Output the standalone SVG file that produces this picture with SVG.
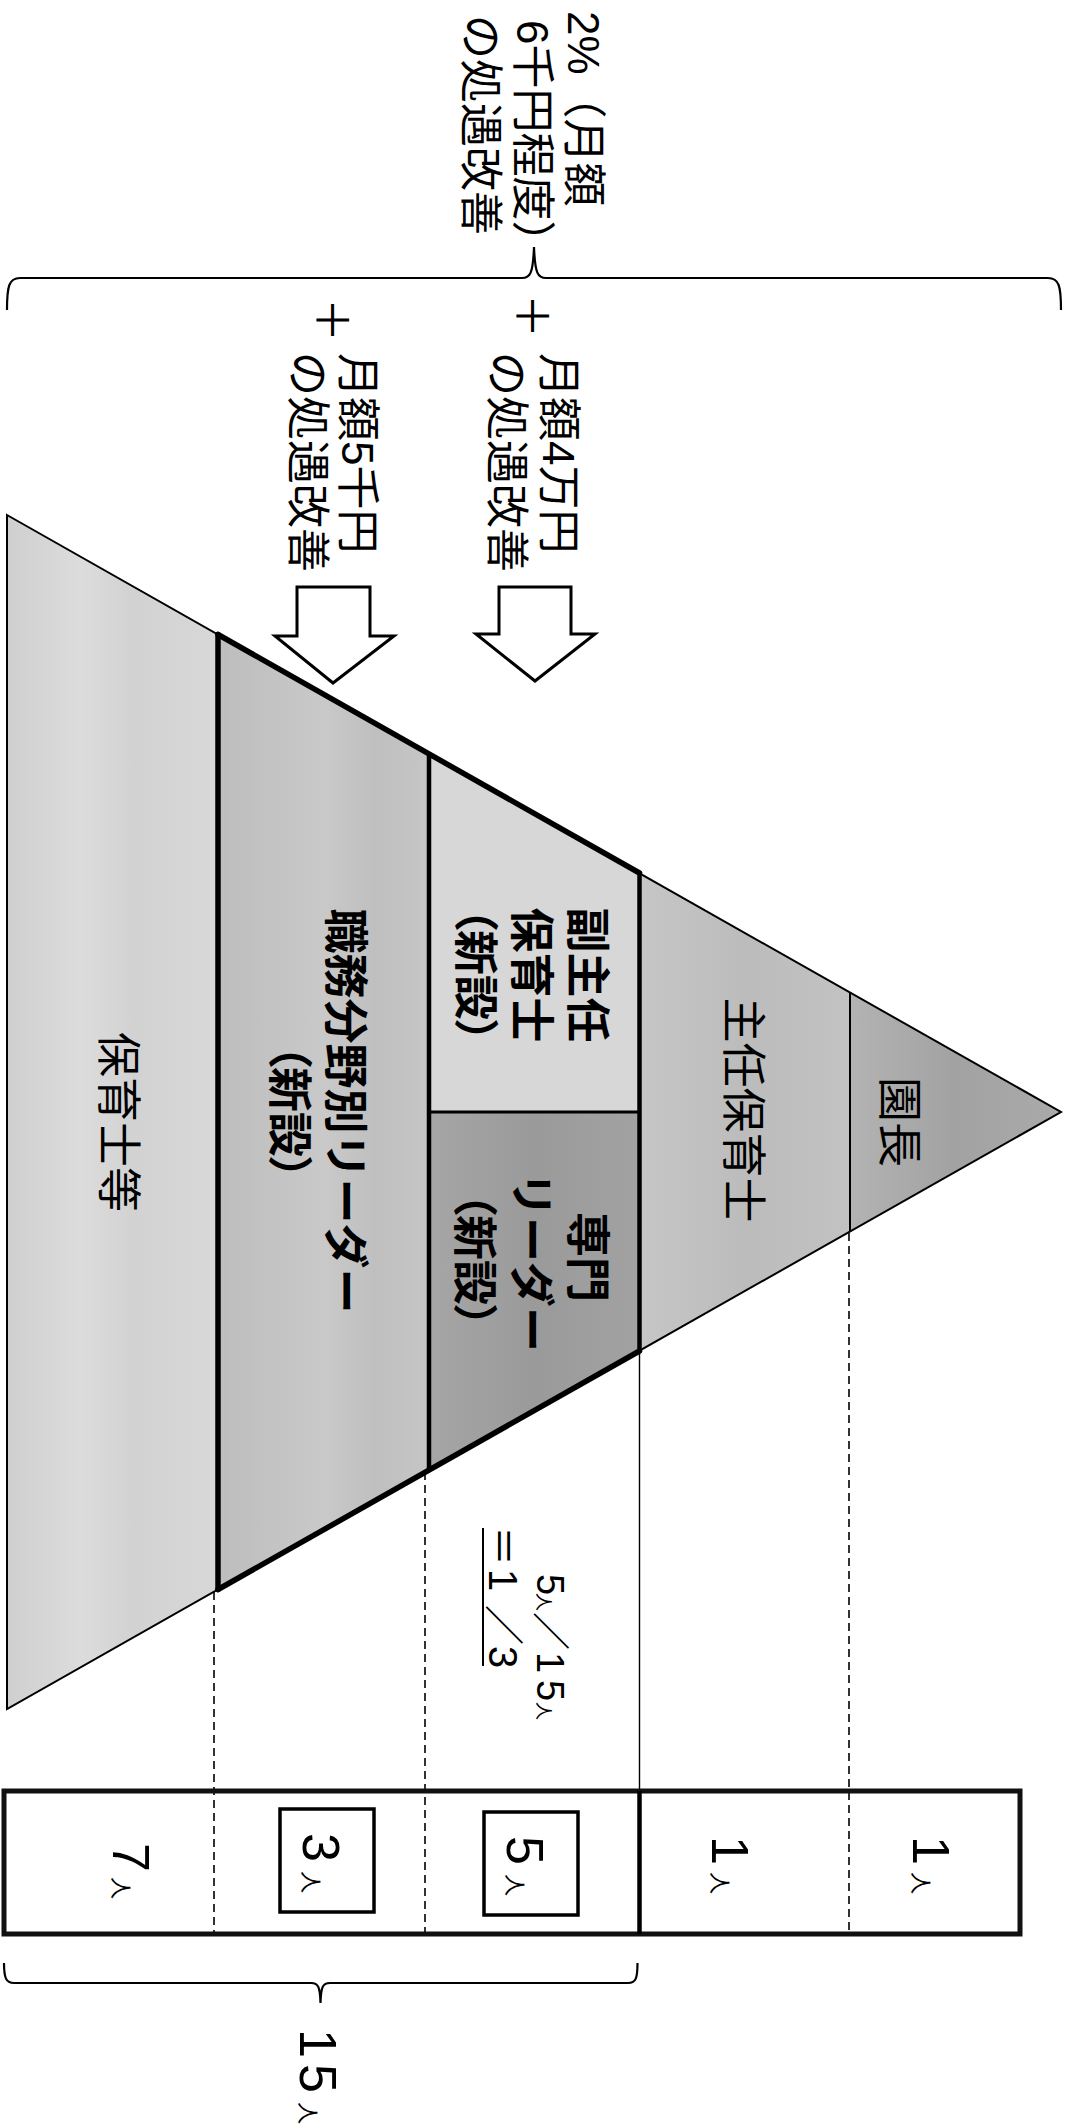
<svg xmlns="http://www.w3.org/2000/svg" width="1066" height="2125" viewBox="0 0 1066 2125">
<style>
.t{font-family:"Liberation Sans","Noto Sans CJK JP",sans-serif;fill:#000}
.f42{font-size:44px}
.f45{font-size:45px}
.b{font-weight:bold}
.palt{font-feature-settings:"palt"}
.num{font-size:52px}
.nin{font-size:22px}
.thin{fill:none;stroke:#000;stroke-width:2}
.thick{fill:none;stroke:#000;stroke-width:5.5;stroke-linecap:round}
.mid{fill:none;stroke:#000;stroke-width:4.5}
.dash{fill:none;stroke:#000;stroke-width:1.6;stroke-dasharray:8 5}
.arrow{fill:#fff;stroke:#000;stroke-width:3;stroke-linejoin:miter}
.brace{fill:none;stroke:#000;stroke-width:2.2}
</style>
<defs>
<linearGradient id="gHoiku" x1="0" y1="0" x2="1" y2="0">
<stop offset="0" stop-color="#cfcfcf"/><stop offset="0.35" stop-color="#dcdcdc"/><stop offset="0.6" stop-color="#d2d2d2"/><stop offset="1" stop-color="#d8d8d8"/>
</linearGradient>
<linearGradient id="gShokumu" x1="0" y1="0" x2="1" y2="0">
<stop offset="0" stop-color="#bdbdbd"/><stop offset="0.5" stop-color="#c9c9c9"/><stop offset="0.75" stop-color="#bfbfbf"/><stop offset="1" stop-color="#c6c6c6"/>
</linearGradient>
<linearGradient id="gSenmon" x1="0" y1="0" x2="1" y2="0">
<stop offset="0" stop-color="#a6a6a6"/><stop offset="0.5" stop-color="#9a9a9a"/><stop offset="1" stop-color="#a2a2a2"/>
</linearGradient>
<linearGradient id="gShunin" x1="0" y1="0" x2="1" y2="0">
<stop offset="0" stop-color="#c6c6c6"/><stop offset="0.5" stop-color="#bcbcbc"/><stop offset="1" stop-color="#c2c2c2"/>
</linearGradient>
<linearGradient id="gEncho" x1="0" y1="0" x2="1" y2="0">
<stop offset="0" stop-color="#b3b3b3"/><stop offset="0.5" stop-color="#a2a2a2"/><stop offset="1" stop-color="#aaaaaa"/>
</linearGradient>
</defs>

<g id="label-top">
<text class="t f42" transform="translate(568,0) rotate(90)" x="11" y="0">2%（月額</text>
<text class="t f42" transform="translate(517,0) rotate(90)" x="20" y="0">6千円程度）</text>
<text class="t f42" transform="translate(465,0) rotate(90)" x="15" y="0">の処遇改善</text>
</g>

<g id="brace-top">
<path class="brace" d="M7,310 C7,286 9,278 20,278 L522,278 C530,278 533,274 534,247 C535,274 538,278 546,278 L1048,278 C1059,278 1061,286 1061,310"/>
</g>

<g id="label-4man">
<text class="t f42" transform="translate(516,0) rotate(90)" x="316" y="0" text-anchor="middle">＋</text>
<text class="t f42" transform="translate(543,0) rotate(90)" x="353" y="0">月額4万円</text>
<text class="t f42" transform="translate(491,0) rotate(90)" x="352" y="0">の処遇改善</text>
</g>

<g id="label-5sen">
<text class="t f42" transform="translate(316,0) rotate(90)" x="320" y="0" text-anchor="middle">＋</text>
<text class="t f42" transform="translate(342,0) rotate(90)" x="353" y="0">月額5千円</text>
<text class="t f42" transform="translate(292,0) rotate(90)" x="352" y="0">の処遇改善</text>
</g>

<g id="tier-hoikushi">
<polygon points="7,515 218,634.5 218,1589.5 7,1709" fill="url(#gHoiku)"/>
<text class="t f45" transform="translate(102,0) rotate(90)" x="1122" y="0" text-anchor="middle">保育士等</text>
</g>

<g id="tier-shokumu">
<polygon points="218,634.5 429,754 429,1470 218,1589.5" fill="url(#gShokumu)"/>
<text class="t f45 b" transform="translate(329,0) rotate(90)" x="1111" y="0" text-anchor="middle">職務分野別リーダー</text>
<text class="t f45 b palt" transform="translate(273,0) rotate(90)" x="1112" y="0" text-anchor="middle">（新設）</text>
</g>

<g id="tier-fukushunin">
<polygon points="429,754 639.5,873 639.5,1112 429,1112" fill="#d7d7d7"/>
<text class="t f45 b" transform="translate(571,0) rotate(90)" x="975" y="0" text-anchor="middle">副主任</text>
<text class="t f45 b" transform="translate(515,0) rotate(90)" x="975" y="0" text-anchor="middle">保育士</text>
<text class="t f45 b palt" transform="translate(459,0) rotate(90)" x="975" y="0" text-anchor="middle">（新設）</text>
</g>

<g id="tier-senmon">
<polygon points="429,1112 639.5,1112 639.5,1351 429,1470" fill="url(#gSenmon)"/>
<text class="t f45 b" transform="translate(571,0) rotate(90)" x="1257" y="0" text-anchor="middle">専門</text>
<text class="t f45 b" transform="translate(515,0) rotate(90)" x="1262" y="0" text-anchor="middle">リーダー</text>
<text class="t f45 b palt" transform="translate(458,0) rotate(90)" x="1260" y="0" text-anchor="middle">（新設）</text>
</g>

<g id="tier-shunin">
<polygon points="639.5,873 850,992.5 850,1231.5 639.5,1351" fill="url(#gShunin)"/>
<text class="t f45" transform="translate(727,0) rotate(90)" x="1110" y="0" text-anchor="middle">主任保育士</text>
</g>

<g id="tier-encho">
<polygon points="850,992.5 1061,1112 850,1231.5" fill="url(#gEncho)"/>
<text class="t f45" transform="translate(883,0) rotate(90)" x="1122" y="0" text-anchor="middle">園長</text>
</g>

<g id="pyramid-lines">
<polygon class="thin" points="7,515 1061,1112 7,1709"/>
<line class="thin" x1="850" y1="992.5" x2="850" y2="1231.5"/>
<line class="mid" x1="429" y1="754" x2="429" y2="1470"/>
<line class="mid" x1="639.5" y1="873" x2="639.5" y2="1351"/>
<line stroke="#000" stroke-width="3" x1="429" y1="1112" x2="639.5" y2="1112"/>
<line class="thick" x1="218" y1="634.5" x2="218" y2="1589.5"/>
<line class="thick" x1="218" y1="634.5" x2="639.5" y2="873"/>
<line class="thick" x1="218" y1="1589.5" x2="639.5" y2="1351"/>
</g>

<g id="connectors">
<polygon class="arrow" points="499,587 571,587 571,634 595,634 535,681 476,634 499,634"/>
<polygon class="arrow" points="297,587 370,587 370,636 394,636 333,683 275,636 297,636"/>
<line class="dash" x1="214" y1="1592" x2="214" y2="1934"/>
<line class="dash" x1="425" y1="1472" x2="425" y2="1934"/>
<line class="dash" x1="849" y1="1233" x2="849" y2="1934"/>
<line stroke="#000" stroke-width="1.4" x1="639.5" y1="1351" x2="639.5" y2="1791"/>
</g>

<g id="ratio">
<text class="t" transform="translate(537,0) rotate(90)" y="0"><tspan x="1574" font-size="38">5</tspan><tspan x="1593" font-size="18">人</tspan><tspan x="1612" font-size="38">／</tspan><tspan x="1652" font-size="38">1</tspan><tspan x="1680" font-size="38">5</tspan><tspan x="1702" font-size="18">人</tspan></text>
<text class="t" transform="translate(489,0) rotate(90)" y="0" font-size="40"><tspan x="1526">＝</tspan><tspan x="1569">1</tspan><tspan x="1605">／</tspan><tspan x="1646">3</tspan></text>
<line stroke="#000" stroke-width="2" x1="483" y1="1528" x2="483" y2="1666"/>
</g>

<g id="count-bar">
<rect x="4" y="1791" width="1016" height="143" fill="none" stroke="#111" stroke-width="5"/>
<line stroke="#000" stroke-width="4.5" x1="639.5" y1="1791" x2="639.5" y2="1934"/>
<rect x="280" y="1809" width="94" height="103" fill="none" stroke="#000" stroke-width="3.5"/>
<rect x="484" y="1812" width="94" height="103" fill="none" stroke="#000" stroke-width="3.5"/>
<text class="t" transform="translate(113,0) rotate(90)" y="0"><tspan class="num" x="1843">7</tspan><tspan class="nin" x="1877">人</tspan></text>
<text class="t" transform="translate(303,0) rotate(90)" y="0"><tspan class="num" x="1833">3</tspan><tspan class="nin" x="1871">人</tspan></text>
<text class="t" transform="translate(507,0) rotate(90)" y="0"><tspan class="num" x="1836">5</tspan><tspan class="nin" x="1874">人</tspan></text>
<text class="t" transform="translate(712,0) rotate(90)" y="0"><tspan class="num" x="1836">1</tspan><tspan class="nin" x="1872">人</tspan></text>
<text class="t" transform="translate(913,0) rotate(90)" y="0"><tspan class="num" x="1836">1</tspan><tspan class="nin" x="1872">人</tspan></text>
</g>

<g id="brace-bottom">
<path class="brace" d="M4,1963 C4,1978 6,1983 14,1983 L311,1983 C318,1983 320,1986 320.5,2003 C321,1986 323,1983 330,1983 L628,1983 C636,1983 637.5,1978 637.5,1963"/>
</g>

<g id="total">
<text class="t" transform="translate(300,0) rotate(90)" y="0"><tspan class="num" x="2029">1</tspan><tspan class="num" x="2064">5</tspan><tspan class="nin" x="2102">人</tspan></text>
</g>
</svg>
